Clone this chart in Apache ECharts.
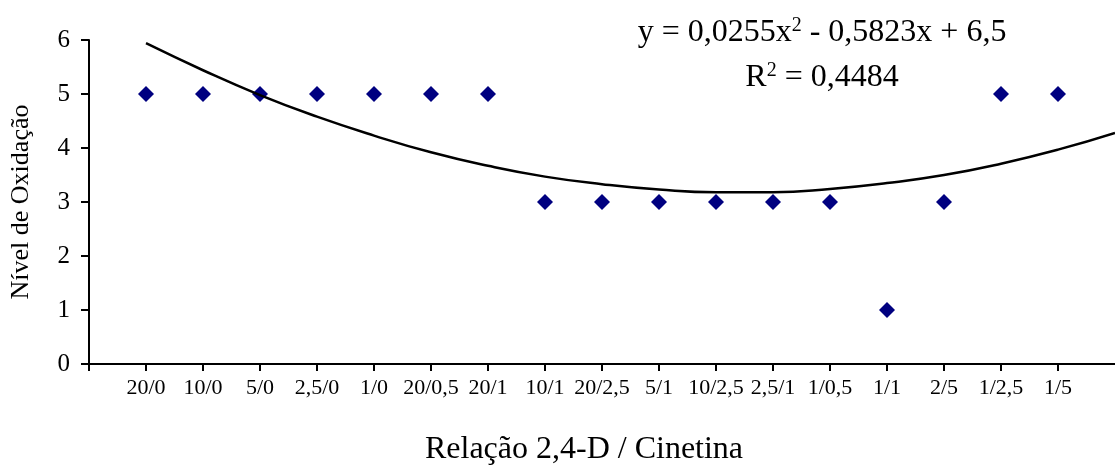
<!DOCTYPE html>
<html><head><meta charset="utf-8">
<script src="https://cdn.jsdelivr.net/npm/echarts@6/dist/echarts.min.js"></script>
<style>html,body{margin:0;padding:0;background:#fff}#c{width:1115px;height:471px}</style>
</head><body><div id="c"></div>
<script>
const categories = ["20/0","10/0","5/0","2,5/0","1/0","20/0,5","20/1","10/1","20/2,5","5/1","10/2,5","2,5/1","1/0,5","1/1","2/5","1/2,5","1/5"];
const oxidationLevel = [5,5,5,5,5,5,5,3,3,3,3,3,3,1,3,5,5];
// trend line values read at each category position (1..18)
const trendX = [1,2,3,4,5,6,7,8,9,10,11,12,13,14,15,16,17,18];
const trendY = [5.94,5.44,4.98,4.58,4.23,3.92,3.67,3.47,3.33,3.23,3.18,3.18,3.24,3.35,3.50,3.71,3.97,4.28];
const yTicks = [0,1,2,3,4,5,6];
const xTickPositions = [0,1,2,3,4,5,6,7,8,9,10,11,12,13,14,15,16,17];

const font = '"Liberation Serif","Times New Roman",serif';
const chart = echarts.init(document.getElementById('c'), null, {renderer:'canvas'});
chart.setOption({
  animation:false,
  backgroundColor:'#fff',
  grid:{left:88,right:0,top:40,bottom:106},
  xAxis:{
    type:'value', min:0, max:18, interval:1,
    name:'Relação 2,4-D / Cinetina', nameLocation:'middle', nameGap:70,
    nameTextStyle:{fontFamily:font,fontSize:32,color:'#000',padding:[0,36,0,0]},
    axisLine:{show:true,onZero:false,lineStyle:{color:'#000',width:2}},
    axisTick:{show:true,length:7,customValues:xTickPositions,lineStyle:{color:'#000',width:2}},
    axisLabel:{fontFamily:font,fontSize:22,color:'#000',margin:13,
      customValues:xTickPositions.slice(1),
      formatter:v=>(v>=1&&v<=categories.length)?categories[v-1]:''},
    splitLine:{show:false}
  },
  yAxis:{
    type:'value', min:yTicks[0], max:yTicks[yTicks.length-1], interval:1,
    name:'Nível de Oxidação', nameLocation:'middle', nameGap:55,
    nameTextStyle:{fontFamily:font,fontSize:26,color:'#000'},
    axisLine:{show:true,lineStyle:{color:'#000',width:2}},
    axisTick:{show:true,length:8,lineStyle:{color:'#000',width:2}},
    axisLabel:{fontFamily:font,fontSize:25,color:'#000',margin:19},
    splitLine:{show:false}
  },
  series:[
    {type:'scatter', data:oxidationLevel.map((v,i)=>[i+1,v]), symbol:'diamond', symbolSize:16,
     itemStyle:{color:'#000080',opacity:1}, z:2},
    {type:'line', data:trendX.map((x,i)=>[x,trendY[i]]), smooth:true, showSymbol:false,
     lineStyle:{color:'#000',width:2.5}, z:3}
  ],
  graphic:[
    {type:'text', x:822, y:33, style:{
      text:'y = 0,0255x{s|2} - 0,5823x + 6,5', font:'32px '+font, fill:'#000',
      align:'center', verticalAlign:'middle',
      rich:{s:{fontFamily:font,fontSize:20,padding:[0,0,14,0]}}
    }},
    {type:'text', x:822, y:78, style:{
      text:'R{s|2} = 0,4484', font:'32px '+font, fill:'#000',
      align:'center', verticalAlign:'middle',
      rich:{s:{fontFamily:font,fontSize:20,padding:[0,0,14,0]}}
    }}
  ]
});
</script></body></html>
